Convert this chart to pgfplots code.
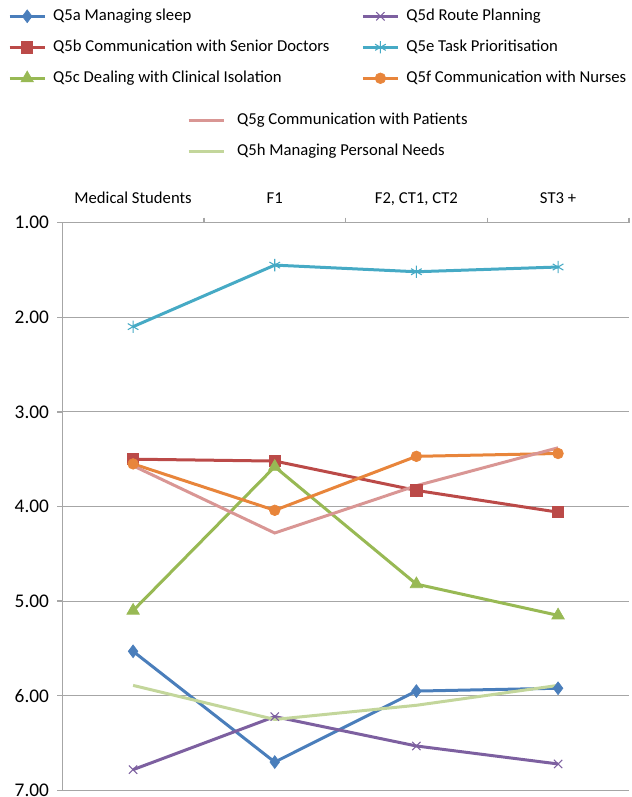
\documentclass[border=0pt]{standalone}
\usepackage{pgfplots}
\pgfplotsset{compat=1.18}
\usepackage{fontspec}
\setmainfont{Carlito}

\definecolor{cA}{HTML}{4A7EBB}
\definecolor{cB}{HTML}{BB4A48}
\definecolor{cC}{HTML}{98B954}
\definecolor{cD}{HTML}{7D60A0}
\definecolor{cE}{HTML}{46AAC5}
\definecolor{cF}{HTML}{E8853B}
\definecolor{cG}{HTML}{D99694}
\definecolor{cH}{HTML}{C3D69B}
\definecolor{gridc}{HTML}{A6A6A6}

\pgfplotstableread{
x  a     b     c     d     e     f     g     h
1  5.53  3.50  5.10  6.78  2.10  3.55  3.57  5.89
2  6.70  3.52  3.58  6.22  1.45  4.04  4.28  6.25
3  5.95  3.83  4.82  6.53  1.52  3.47  3.78  6.10
4  5.92  4.06  5.15  6.72  1.47  3.44  3.38  5.89
}\scores

\pgfplotsset{
  sA/.style={cA, line width=2.25pt, mark=diamond*, mark size=4.8pt, mark options={solid, fill=cA, line width=0.5pt}},
  sB/.style={cB, line width=2.25pt, mark=square*, mark size=4.2pt, mark options={solid, fill=cB, line width=0.5pt}},
  sC/.style={cC, line width=2.25pt, mark=triangle*, mark size=5.4pt, mark options={solid, fill=cC, line width=0.5pt}},
  sD/.style={cD, line width=2.25pt, mark=x, mark size=4.4pt, mark options={solid, line width=0.8pt}},
  sE/.style={cE, line width=2.25pt, mark=asterisk, mark size=4.6pt, mark options={solid, line width=0.8pt}},
  sF/.style={cF, line width=2.25pt, mark=*, mark size=4pt, mark options={solid, fill=cF, line width=0.5pt}},
  sG/.style={cG, line width=2.25pt, no markers},
  sH/.style={cH, line width=2.25pt, no markers},
}

\begin{document}
\begin{tikzpicture}

\begin{axis}[
  name=main, at={(0,0)}, anchor=south west,
  scale only axis, width=425pt, height=426pt,
  xmin=0.5, xmax=4.5, ymin=1, ymax=7, y dir=reverse,
  axis x line*=top, axis y line*=left,
  axis line style={gridc, line width=1pt},
  tick align=outside,
  major tick length=3.75pt,
  xtick={1,2,3,4},
  xticklabels={Medical Students, F1, {F2, CT1, CT2}, ST3 +},
  major x tick style={draw=none},
  minor xtick={1.5,2.5,3.5,4.5},
  minor x tick style={gridc, line width=1pt},
  minor tick length=3.75pt,
  xticklabel style={font=\fontsize{12.5pt}{14pt}\selectfont, text height=9pt, text depth=3pt, inner sep=0pt, yshift=7pt},
  ytick={1,2,3,4,5,6,7},
  yticklabels={1.00,2.00,3.00,4.00,5.00,6.00,7.00},
  yticklabel style={font=\fontsize{14.5pt}{16pt}\selectfont, inner sep=0pt, xshift=-6pt},
  major y tick style={gridc, line width=1pt},
  ymajorgrids,
  grid style={gridc, line width=0.8pt},
  clip=false,
  legend columns=2,
  legend cell align=left,
  legend image code/.code={\draw[mark repeat=2,mark phase=2,#1] plot coordinates {(0pt,0pt) (13.1pt,0pt) (26.25pt,0pt)};},
  legend style={at={(axis description cs:-0.0958,1.3777)}, anchor=north west, draw=none, fill=none, inner sep=0pt,
    font=\fontsize{12.5pt}{14pt}\selectfont, row sep=11.25pt,
    nodes={inner sep=0pt, text height=9pt, text depth=3pt},
    /tikz/every odd column/.append style={column sep=5.25pt},
    /tikz/every even column/.append style={column sep=24pt}},
]
\addplot[sA, forget plot] table[x=x, y=a] {\scores};
\addplot[sB, forget plot] table[x=x, y=b] {\scores};
\addplot[sC, forget plot] table[x=x, y=c] {\scores};
\addplot[sD, forget plot] table[x=x, y=d] {\scores};
\addplot[sE, forget plot] table[x=x, y=e] {\scores};
\addplot[sF, forget plot] table[x=x, y=f] {\scores};
\addplot[sG, forget plot] table[x=x, y=g] {\scores};
\addplot[sH, forget plot] table[x=x, y=h] {\scores};

\addlegendimage{sA}\addlegendentry{Q5a Managing sleep}
\addlegendimage{sD}\addlegendentry{Q5d Route Planning}
\addlegendimage{sB}\addlegendentry{Q5b Communication with Senior Doctors}
\addlegendimage{sE}\addlegendentry{Q5e Task Prioritisation}
\addlegendimage{sC}\addlegendentry{Q5c Dealing with Clinical Isolation}
\addlegendimage{sF}\addlegendentry{Q5f Communication with Nurses}
\end{axis}

\begin{axis}[
  at={(0,0)}, anchor=south west,
  scale only axis, width=425pt, height=426pt,
  xmin=0, xmax=1, ymin=0, ymax=1,
  hide axis,
  legend columns=1,
  legend cell align=left,
  legend image code/.code={\draw[#1] (0pt,0pt) -- (26.25pt,0pt);},
  legend style={at={(axis description cs:0.22,1.1946)}, anchor=north west, draw=none, fill=none, inner sep=0pt,
    font=\fontsize{12.5pt}{14pt}\selectfont, row sep=11.25pt,
    nodes={inner sep=0pt, text height=9pt, text depth=3pt},
    /tikz/every odd column/.append style={column sep=9pt}},
]
\addlegendimage{sG}\addlegendentry{Q5g Communication with Patients}
\addlegendimage{sH}\addlegendentry{Q5h Managing Personal Needs}
\end{axis}

\pgfresetboundingbox
\path[use as bounding box] (-46.7pt,-4.9pt) rectangle (427.3pt,592.9pt);
\end{tikzpicture}
\end{document}
